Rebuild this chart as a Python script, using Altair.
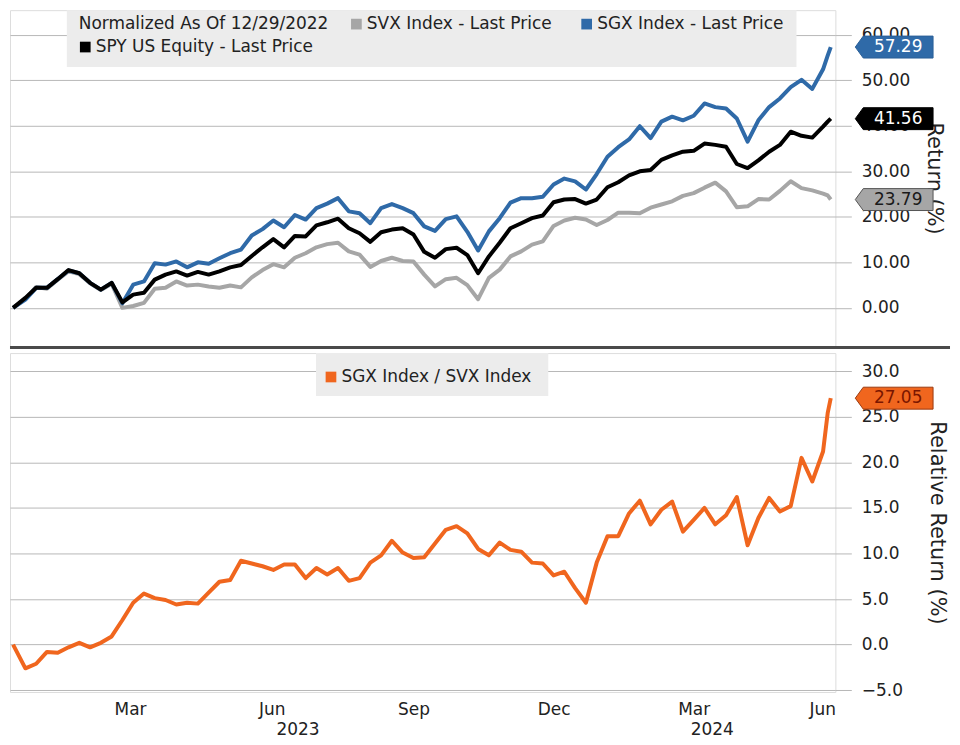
import altair as alt
import pandas as pd

# ---------------- data ----------------
dates = [
    "2022-12-29", "2023-01-06", "2023-01-13", "2023-01-20", "2023-01-27", "2023-02-03", "2023-02-10",
    "2023-02-17", "2023-02-24", "2023-03-03", "2023-03-10", "2023-03-17", "2023-03-24", "2023-03-31",
    "2023-04-07", "2023-04-14", "2023-04-21", "2023-04-28", "2023-05-05", "2023-05-12", "2023-05-19",
    "2023-05-26", "2023-06-02", "2023-06-09", "2023-06-16", "2023-06-23", "2023-06-30", "2023-07-07",
    "2023-07-14", "2023-07-21", "2023-07-28", "2023-08-04", "2023-08-11", "2023-08-18", "2023-08-25",
    "2023-09-01", "2023-09-08", "2023-09-15", "2023-09-22", "2023-09-29", "2023-10-06", "2023-10-13",
    "2023-10-20", "2023-10-27", "2023-11-03", "2023-11-10", "2023-11-17", "2023-11-24", "2023-12-01",
    "2023-12-08", "2023-12-15", "2023-12-22", "2023-12-29", "2024-01-05", "2024-01-12", "2024-01-19",
    "2024-01-26", "2024-02-02", "2024-02-09", "2024-02-16", "2024-02-23", "2024-03-01", "2024-03-08",
    "2024-03-15", "2024-03-22", "2024-03-29", "2024-04-05", "2024-04-12", "2024-04-19", "2024-04-26",
    "2024-05-03", "2024-05-10", "2024-05-17", "2024-05-24", "2024-05-31", "2024-06-07", "2024-06-10",
    "2024-06-12",
]

svx = [
    0.0, 2.0, 4.6, 4.2, 6.2, 8.0, 7.4, 5.4, 3.9, 5.3, 0.0, 0.4, 1.1, 4.2, 4.4, 5.8, 4.9, 5.1, 4.7, 4.4,
    4.9, 4.5, 6.7, 8.3, 9.6, 8.9, 11.0, 12.0, 13.3, 14.0, 14.3, 12.4, 11.7, 9.0, 10.3, 11.0, 10.3, 10.2,
    7.3, 4.7, 6.3, 6.6, 5.0, 1.9, 6.6, 8.4, 11.3, 12.4, 13.9, 14.6, 18.0, 19.2, 19.8, 19.4, 18.2, 19.3,
    20.9, 20.9, 20.8, 22.0, 22.7, 23.4, 24.6, 25.2, 26.4, 27.5, 25.6, 22.1, 22.3, 23.9, 23.8, 25.7, 27.8,
    26.3, 25.8, 25.1, 24.7, 23.79,
]

sgx = [
    0.0, 1.8, 4.4, 4.4, 6.3, 8.2, 7.6, 5.5, 4.0, 5.5, 1.0, 5.1, 5.8, 9.8, 9.5, 10.2, 8.9, 10.0, 9.7, 10.9,
    12.0, 12.8, 15.9, 17.3, 19.2, 17.7, 20.4, 19.4, 21.9, 22.9, 24.1, 21.2, 20.8, 18.6, 21.9, 22.8, 21.9,
    20.8, 17.9, 16.9, 19.5, 20.1, 16.7, 12.6, 16.8, 19.7, 23.1, 24.1, 24.1, 24.4, 27.1, 28.4, 27.8, 26.0,
    29.4, 33.2, 35.3, 37.0, 39.9, 37.3, 40.9, 42.0, 41.2, 42.2, 44.9, 44.1, 43.8, 41.6, 36.5, 41.2, 44.1,
    46.0, 48.5, 50.1, 48.1, 52.4, 55.4, 57.29,
]

spy = [
    0.0, 2.2, 4.4, 4.4, 6.3, 8.3, 7.6, 5.5, 4.0, 5.5, 1.2, 2.9, 3.3, 6.2, 7.3, 8.0, 7.1, 7.9, 7.3, 8.0,
    8.9, 9.4, 11.4, 13.3, 15.1, 13.3, 15.8, 15.7, 18.1, 18.8, 19.6, 17.5, 16.4, 14.5, 16.6, 17.2, 17.5,
    16.1, 12.3, 11.0, 12.9, 13.2, 11.6, 7.6, 11.3, 14.3, 17.5, 18.6, 19.7, 20.3, 23.2, 23.8, 23.9, 22.9,
    23.8, 26.5, 27.6, 29.1, 30.0, 30.3, 32.5, 33.5, 34.3, 34.5, 36.1, 35.8, 35.4, 31.6, 30.7, 32.4, 34.3,
    35.8, 38.7, 37.8, 37.4, 39.8, 40.9, 41.56,
]

rel = [
    0.0, -2.6, -2.1, -0.8, -0.9, -0.3, 0.2, -0.3, 0.2, 0.9, 2.7, 4.6, 5.6, 5.1, 4.9, 4.4, 4.6, 4.5, 5.7,
    6.9, 7.1, 9.2, 8.9, 8.6, 8.2, 8.8, 8.8, 7.3, 8.4, 7.7, 8.4, 7.0, 7.3, 9.0, 9.8, 11.4, 10.1, 9.5, 9.6,
    11.1, 12.6, 13.0, 12.2, 10.5, 9.8, 11.2, 10.4, 10.2, 9.0, 8.9, 7.6, 8.0, 6.2, 4.6, 9.0, 11.9, 11.9,
    14.4, 15.8, 13.2, 14.8, 15.7, 12.4, 13.7, 15.0, 13.2, 14.2, 16.2, 10.9, 13.9, 16.1, 14.6, 15.2, 20.5,
    17.9, 21.2, 25.4, 27.05,
]

top_legend_title = "Normalized As Of 12/29/2022"
top_legend_labels = ["SVX Index - Last Price", "SGX Index - Last Price", "SPY US Equity - Last Price"]
bottom_legend_label = "SGX Index / SVX Index"

top_tag_values = [57.29, 41.56, 23.79]
bottom_tag_values = [27.05]

top_ticks = [0, 10, 20, 30, 40, 50, 60]
bottom_ticks = [-5, 0, 5, 10, 15, 20, 25, 30]
month_ticks = ["2023-03-15", "2023-06-15", "2023-09-15", "2023-12-15", "2024-03-15", "2024-06-15"]
year_labels = ["2023", "2024"]
year_label_dates = ["2023-07-02", "2024-03-27"]

# ---------------- styling ----------------
FONT = "DejaVu Sans"
C_GRAY, C_BLUE, C_BLACK, C_ORANGE = "#a6a6a6", "#2f6aa8", "#000000", "#f0661e"
GRID = "#b8b8b8"
TXT = "#222222"
W, H1, H2 = 828, 337, 340
LW = 4
TAG_PATH = "M -1 0 L -0.8 -0.275 L 0.95 -0.275 L 0.95 0.275 L -0.8 0.275 Z"


def to_dt(s):
    y, m, d = (int(p) for p in s.split("-"))
    return alt.DateTime(year=y, month=m, date=d)


df = pd.DataFrame({"date": pd.to_datetime(dates), "svx": svx, "sgx": sgx, "spy": spy, "rel": rel})
one = pd.DataFrame({"a": [0]})

xscale = alt.Scale(domain=[alt.DateTime(year=2022, month=12, date=27), alt.DateTime(year=2024, month=6, date=15)])

y_axis_top = alt.Axis(
    orient="right", values=top_ticks, format=".2f", title="Return (%)", grid=True, gridColor=GRID,
    tickColor=GRID, tickSize=16, domain=False, labelPadding=10, labelFontSize=17, labelFont=FONT,
    labelColor=TXT, titleFontSize=21, titleFont=FONT, titleFontWeight="normal", titleColor=TXT,
    titlePadding=14,
)
y_axis_bot = alt.Axis(
    orient="right", values=bottom_ticks, format=".1f", title="Relative Return (%)", grid=True,
    gridColor=GRID, tickColor=GRID, tickSize=16, domain=False, labelPadding=10, labelFontSize=17,
    labelFont=FONT, labelColor=TXT, titleFontSize=21, titleFont=FONT, titleFontWeight="normal",
    titleColor=TXT, titlePadding=24,
)
yscale_top = alt.Scale(domain=[-8.4, 65.4], nice=False, zero=False)
yscale_bot = alt.Scale(domain=[-5.2, 32.0], nice=False, zero=False)

x_top = alt.X("date:T", scale=xscale, axis=None)
x_axis_bot = alt.Axis(
    values=[to_dt(s) for s in month_ticks], format="%b", title=None, ticks=False, domain=False,
    grid=False, labelFontSize=17, labelFont=FONT, labelColor=TXT, labelPadding=10,
)


def ytop(field):
    return alt.Y(field, scale=yscale_top, axis=y_axis_top, title="Return (%)")


def ybot(field):
    return alt.Y(field, scale=yscale_bot, axis=y_axis_bot, title="Relative Return (%)")


# ---------------- top panel ----------------
top_box = alt.Chart(one).mark_rect(color="#ececec").encode(
    x=alt.value(57), x2=alt.value(789), y=alt.value(0), y2=alt.value(57)
)
line_svx = alt.Chart(df).mark_line(color=C_GRAY, strokeWidth=LW, strokeJoin="round").encode(x=x_top, y=ytop("svx:Q"))
line_sgx = alt.Chart(df).mark_line(color=C_BLUE, strokeWidth=LW, strokeJoin="round").encode(x=x_top, y=ytop("sgx:Q"))
line_spy = alt.Chart(df).mark_line(color=C_BLACK, strokeWidth=LW, strokeJoin="round").encode(x=x_top, y=ytop("spy:Q"))

tags_top = pd.DataFrame({
    "v": top_tag_values,
    "fill": [C_BLUE, C_BLACK, C_GRAY],
    "stroke": ["#2a5f98", "#000000", "#555555"],
    "tc": ["#ffffff", "#ffffff", "#1a1a1a"],
})
tag_top_shape = alt.Chart(tags_top).mark_point(shape=TAG_PATH, filled=True, size=6400, opacity=1, strokeWidth=1).encode(
    x=alt.value(W + 60), y=ytop("v:Q"),
    fill=alt.Fill("fill:N", scale=None), stroke=alt.Stroke("stroke:N", scale=None),
)
tag_top_text = alt.Chart(tags_top).mark_text(font=FONT, fontSize=17, align="center", baseline="middle").encode(
    x=alt.value(W + 63), y=ytop("v:Q"), text=alt.Text("v:Q", format=".2f"), color=alt.Color("tc:N", scale=None)
)

leg_title = alt.Chart(one).mark_text(font=FONT, fontSize=17, align="left", baseline="middle", color=TXT).encode(
    x=alt.value(69), y=alt.value(14), text=alt.value(top_legend_title)
)
leg_pos = [(347.5, 14), (578.5, 14), (75.5, 37)]
leg_cols = [C_GRAY, C_BLUE, C_BLACK]
leg_layers = []
for (lx, ly), lab, col in zip(leg_pos, top_legend_labels, leg_cols):
    leg_layers.append(
        alt.Chart(one).mark_square(size=115, color=col, opacity=1).encode(x=alt.value(lx), y=alt.value(ly))
    )
    leg_layers.append(
        alt.Chart(one).mark_text(font=FONT, fontSize=17, align="left", baseline="middle", color=TXT).encode(
            x=alt.value(lx + 10.5), y=alt.value(ly), text=alt.value(lab)
        )
    )

separator = alt.Chart(one).mark_rule(color="#4a4a4a", strokeWidth=3).encode(
    x=alt.value(0), x2=alt.value(W + 115), y=alt.value(H1 + 1.5)
)

top = alt.layer(
    top_box, line_svx, line_sgx, line_spy, tag_top_shape, tag_top_text, leg_title, *leg_layers, separator
).properties(width=W, height=H1)

# ---------------- bottom panel ----------------
x_bot = alt.X("date:T", scale=xscale, axis=x_axis_bot, title=None)
bot_box = alt.Chart(one).mark_rect(color="#ececec").encode(
    x=alt.value(307), x2=alt.value(540), y=alt.value(0), y2=alt.value(43)
)
line_rel = alt.Chart(df).mark_line(color=C_ORANGE, strokeWidth=LW, strokeJoin="round").encode(x=x_bot, y=ybot("rel:Q"))

tags_bot = pd.DataFrame({"v": bottom_tag_values, "fill": [C_ORANGE], "stroke": ["#9a3a10"], "tc": ["#7a1600"]})
tag_bot_shape = alt.Chart(tags_bot).mark_point(shape=TAG_PATH, filled=True, size=6400, opacity=1, strokeWidth=1).encode(
    x=alt.value(W + 60), y=ybot("v:Q"),
    fill=alt.Fill("fill:N", scale=None), stroke=alt.Stroke("stroke:N", scale=None),
)
tag_bot_text = alt.Chart(tags_bot).mark_text(font=FONT, fontSize=17, align="center", baseline="middle").encode(
    x=alt.value(W + 63), y=ybot("v:Q"), text=alt.Text("v:Q", format=".2f"), color=alt.Color("tc:N", scale=None)
)
bot_sq = alt.Chart(one).mark_square(size=115, color=C_ORANGE, opacity=1).encode(x=alt.value(322), y=alt.value(24))
bot_txt = alt.Chart(one).mark_text(font=FONT, fontSize=17, align="left", baseline="middle", color=TXT).encode(
    x=alt.value(332.5), y=alt.value(24), text=alt.value(bottom_legend_label)
)

years_df = pd.DataFrame({"d": pd.to_datetime(year_label_dates), "label": year_labels})
years = alt.Chart(years_df).mark_text(font=FONT, fontSize=17, align="center", baseline="middle", color=TXT).encode(
    x=alt.X("d:T", scale=xscale, axis=x_axis_bot, title=None), y=alt.value(H2 + 38), text="label:N"
)

bottom = alt.layer(
    bot_box, line_rel, tag_bot_shape, tag_bot_text, bot_sq, bot_txt, years
).properties(width=W, height=H2)

chart = alt.vconcat(top, bottom, spacing=2).properties(padding=0).configure_view(stroke=None).configure(
    background="white"
)

chart.save("out.html", embed_options={"renderer": "svg", "actions": False})
